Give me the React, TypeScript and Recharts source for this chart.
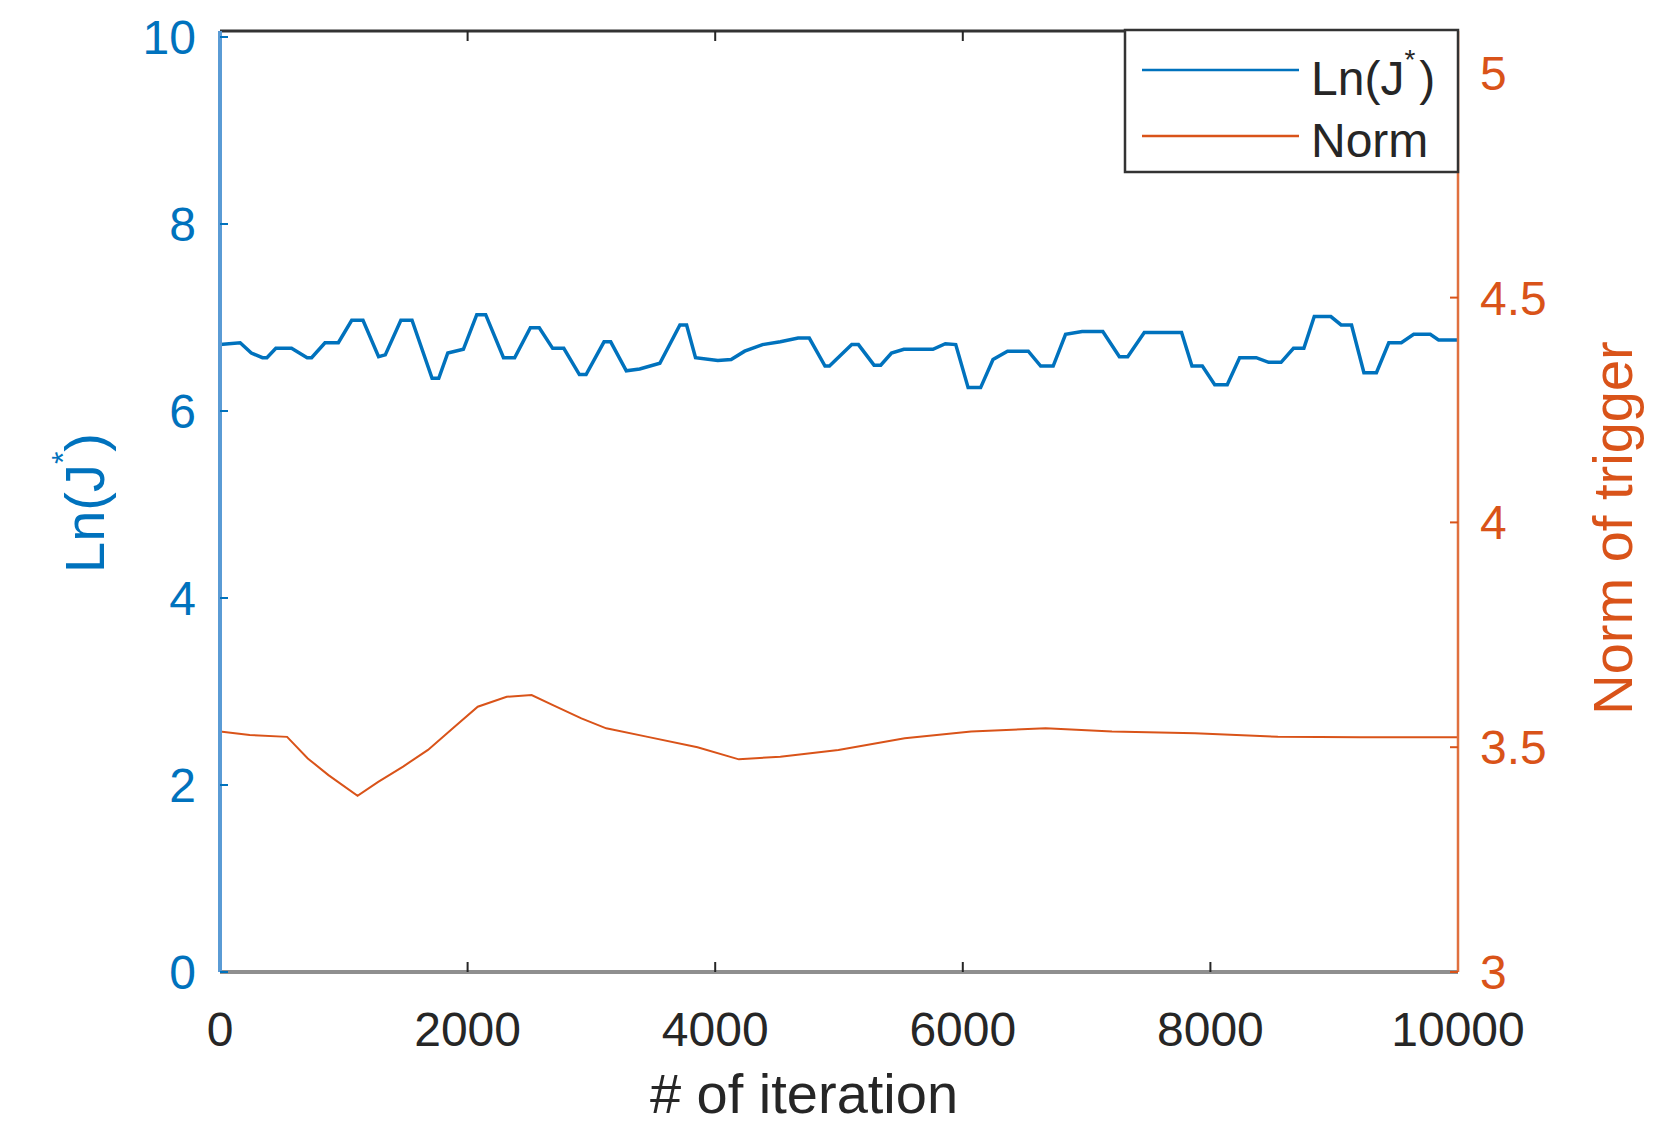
import React from 'react';
import { LineChart, Line, XAxis, YAxis } from 'recharts';

const BLUE = '#0072BD';
const ORANGE = '#D95319';
const DARK = '#262626';
const FONT = '"Liberation Sans", Arial, Helvetica, sans-serif';

// iteration ticks
const xTicks = [0, 2000, 4000, 6000, 8000, 10000];
const lnTicks = [0, 2, 4, 6, 8, 10];
const normTicks = [3, 3.5, 4, 4.5, 5];

// Ln(J*) series (left axis)
const lnIter = [
  0, 163, 253, 343, 379, 451, 578, 704, 740, 848, 956, 1064, 1155, 1281, 1335, 1461, 1551,
  1713, 1767, 1840, 1966, 2074, 2146, 2290, 2380, 2507, 2579, 2687, 2777, 2903, 2957, 3102,
  3156, 3282, 3390, 3553, 3715, 3769, 3841, 4021, 4129, 4238, 4382, 4526, 4670, 4760, 4887,
  4923, 5103, 5157, 5283, 5337, 5424, 5524, 5759, 5859, 5943, 6043, 6144, 6244, 6361, 6529,
  6629, 6730, 6830, 6964, 7131, 7265, 7332, 7466, 7767, 7851, 7935, 8035, 8136, 8236, 8370,
  8470, 8571, 8671, 8755, 8839, 8973, 9056, 9140, 9240, 9341, 9441, 9542, 9642, 9776, 9843,
  10000,
];
const lnValues = [
  6.71, 6.73, 6.62, 6.57, 6.57, 6.67, 6.67, 6.57, 6.57, 6.73, 6.73, 6.97, 6.97, 6.58, 6.6, 6.97, 6.97,
  6.35, 6.35, 6.62, 6.66, 7.03, 7.03, 6.57, 6.57, 6.89, 6.89, 6.67, 6.67, 6.39, 6.39, 6.74,
  6.74, 6.43, 6.45, 6.51, 6.92, 6.92, 6.57, 6.54, 6.55, 6.64, 6.71, 6.74, 6.78, 6.78, 6.48,
  6.48, 6.71, 6.71, 6.49, 6.49, 6.62, 6.66, 6.66, 6.72, 6.71, 6.25, 6.25, 6.55, 6.64, 6.64,
  6.48, 6.48, 6.82, 6.85, 6.85, 6.58, 6.58, 6.84, 6.84, 6.48, 6.48, 6.28, 6.28, 6.57, 6.57,
  6.52, 6.52, 6.67, 6.67, 7.01, 7.01, 6.92, 6.92, 6.41, 6.41, 6.73, 6.73, 6.82, 6.82, 6.76,
  6.76,
];

// Norm of trigger series (right axis)
const normIter = [
  0, 240, 542, 709, 876, 1111, 1278, 1479, 1680, 1881, 2082, 2316, 2517, 2685, 2919, 3120,
  3455, 3857, 4191, 4526, 4995, 5531, 6067, 6669, 7205, 7875, 8545, 9214, 10000,
];
const normValues = [
  3.535, 3.527, 3.523, 3.475, 3.438, 3.392, 3.423, 3.457, 3.494, 3.542, 3.59, 3.612, 3.616,
  3.594, 3.564, 3.542, 3.523, 3.5, 3.473, 3.479, 3.494, 3.52, 3.535, 3.542, 3.535, 3.531,
  3.523, 3.522, 3.522,
];

export default function App() {
  const lnData = lnIter.map((x, i) => ({ x, ln: lnValues[i] }));
  const normData = normIter.map((x, i) => ({ x, norm: normValues[i] }));

  return (
    <div style={{ position: 'absolute', left: 0, top: 0, width: 1661, height: 1129, background: '#fff', fontFamily: FONT }}>
      <LineChart width={1661} height={1129} margin={{ top: 30, right: 83, bottom: 97, left: 100 }}>
        <XAxis
          xAxisId="b"
          type="number"
          dataKey="x"
          domain={[0, 10000]}
          ticks={xTicks}
          height={60}
          tickSize={-10}
          tickMargin={50}
          allowDataOverflow
          axisLine={{ stroke: '#8f8f8f', strokeWidth: 4 }}
          tickLine={{ stroke: DARK, strokeWidth: 2 }}
          tick={{ fill: DARK, fontSize: 48, fontFamily: FONT }}
        />
        {/* top frame of the box, ticks pointing down */}
        <XAxis
          xAxisId="t"
          orientation="top"
          type="number"
          dataKey="x"
          domain={[0, 10000]}
          ticks={xTicks}
          height={1}
          tickSize={-10}
          allowDataOverflow
          tickFormatter={() => ''}
          axisLine={{ stroke: '#333', strokeWidth: 3 }}
          tickLine={{ stroke: DARK, strokeWidth: 2 }}
        />
        <YAxis
          yAxisId="l"
          type="number"
          domain={[0, 10.064]}
          ticks={lnTicks}
          width={120}
          tickSize={-8}
          tickMargin={32}
          allowDataOverflow
          axisLine={{ stroke: '#5a9bd5', strokeWidth: 4 }}
          tickLine={{ stroke: BLUE, strokeWidth: 2 }}
          tick={{ fill: BLUE, fontSize: 48, fontFamily: FONT }}
        />
        <YAxis
          yAxisId="r"
          orientation="right"
          type="number"
          domain={[3, 5.093]}
          ticks={normTicks}
          width={120}
          tickSize={-8}
          tickMargin={30}
          allowDataOverflow
          axisLine={{ stroke: '#e0703f', strokeWidth: 2.5 }}
          tickLine={{ stroke: ORANGE, strokeWidth: 2 }}
          tick={{ fill: ORANGE, fontSize: 48, fontFamily: FONT }}
        />
        <Line
          xAxisId="b"
          yAxisId="l"
          data={lnData}
          dataKey="ln"
          type="linear"
          stroke={BLUE}
          strokeWidth={3.5}
          dot={false}
          isAnimationActive={false}
        />
        <Line
          xAxisId="b"
          yAxisId="r"
          data={normData}
          dataKey="norm"
          type="linear"
          stroke={ORANGE}
          strokeWidth={2}
          dot={false}
          isAnimationActive={false}
        />
      </LineChart>

      {/* axis titles and legend box */}
      <svg width={1661} height={1129} style={{ position: 'absolute', left: 0, top: 0, pointerEvents: 'none' }}>
        <text x={804} y={1113} textAnchor="middle" fontSize={56} fill={DARK} fontFamily={FONT}>
          # of iteration
        </text>
        <text transform="translate(104,503) rotate(-90)" textAnchor="middle" fontSize={56} fill={BLUE} fontFamily={FONT}>
          Ln(J<tspan dy={-30} fontSize={32}>*</tspan>
          <tspan dy={30} fontSize={56}>)</tspan>
        </text>
        <text transform="translate(1632,528) rotate(-90)" textAnchor="middle" fontSize={56} fill={ORANGE} fontFamily={FONT}>
          Norm of trigger
        </text>

        <rect x={1125} y={30} width={333} height={142} fill="#fff" stroke="#333" strokeWidth={2.5} />
        <line x1={1142} x2={1299} y1={70} y2={70} stroke={BLUE} strokeWidth={2.5} />
        <line x1={1142} x2={1299} y1={136} y2={136} stroke={ORANGE} strokeWidth={2.5} />
        <text x={1311} y={95} fontSize={48} fill={DARK} fontFamily={FONT}>
          Ln(J<tspan dy={-26} fontSize={28}>*</tspan>
          <tspan dy={26} dx={4} fontSize={48}>)</tspan>
        </text>
        <text x={1311} y={157} fontSize={48} fill={DARK} fontFamily={FONT}>
          Norm
        </text>
      </svg>
    </div>
  );
}
